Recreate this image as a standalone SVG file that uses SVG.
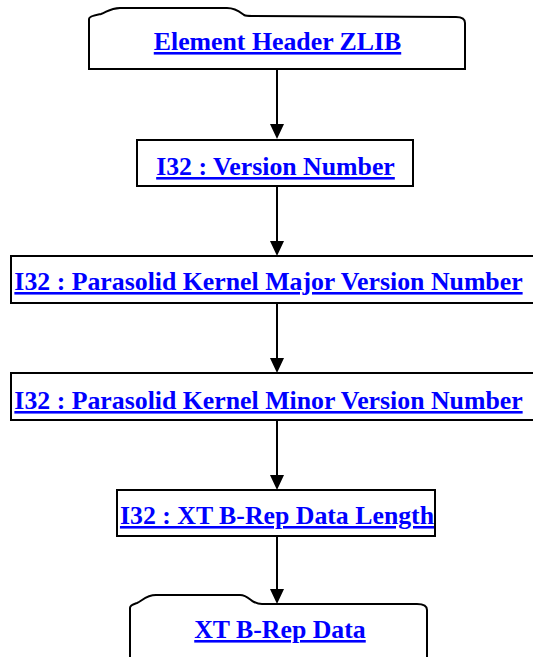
<svg xmlns="http://www.w3.org/2000/svg" width="533" height="657" viewBox="0 0 533 657">
<defs>
<style>
.box{fill:#fff;stroke:#000;stroke-width:2}
.lbl{font-family:"Liberation Serif","Times New Roman",serif;font-weight:bold;font-size:25.8px;fill:#0000ff;text-decoration:underline;text-anchor:middle}
.conn{stroke:#000;stroke-width:2;fill:none}
.head{fill:#000}
</style>
</defs>
<rect width="533" height="657" fill="#fff"/>
<g id="connectors">
<line class="conn" x1="277" y1="69" x2="277" y2="124"/>
<path class="head" d="M270,124 L284,124 L277,139 Z"/>
<line class="conn" x1="277" y1="186" x2="277" y2="241"/>
<path class="head" d="M270,241 L284,241 L277,256 Z"/>
<line class="conn" x1="277" y1="303" x2="277" y2="358"/>
<path class="head" d="M270,358 L284,358 L277,373 Z"/>
<line class="conn" x1="277" y1="420" x2="277" y2="475"/>
<path class="head" d="M270,475 L284,475 L277,490 Z"/>
<line class="conn" x1="277" y1="536" x2="277" y2="589"/>
<path class="head" d="M270,589 L284,589 L277,604 Z"/>
</g>
<g id="node-element-header">
<path class="box" d="M89,69 V19 C89,16 96,15 101,14 C107,12 110,8 120,8 L227,8 C236,8 240,12 244,15 C246,16 248,16 252,16 L456,17 C462,17 465,19 465,23 V69 Z"/>
<text class="lbl" x="277.5" y="50">Element Header ZLIB</text>
</g>
<g id="node-version">
<rect class="box" x="137" y="140" width="276" height="46"/>
<text class="lbl" x="275.5" y="175">I32 : Version Number</text>
</g>
<g id="node-major">
<rect class="box" x="11" y="256" width="540" height="47"/>
<text class="lbl" x="268.5" y="290">I32 : Parasolid Kernel Major Version Number</text>
</g>
<g id="node-minor">
<rect class="box" x="11" y="373" width="540" height="47"/>
<text class="lbl" x="268.5" y="409">I32 : Parasolid Kernel Minor Version Number</text>
</g>
<g id="node-length">
<rect class="box" x="117" y="490" width="318" height="46"/>
<text class="lbl" x="277" y="524">I32 : XT B-Rep Data Length</text>
</g>
<g id="node-data">
<path class="box" d="M130,670 V608 C130,605 134,604 137,603 C142,601 146,595 156,595 L240,595 C247,595 250,600 254,602 C256,603 258,604 262,604 L417,604 C423,604 427,606 427,610 V670"/>
<text class="lbl" x="280" y="638">XT B-Rep Data</text>
</g>
</svg>
